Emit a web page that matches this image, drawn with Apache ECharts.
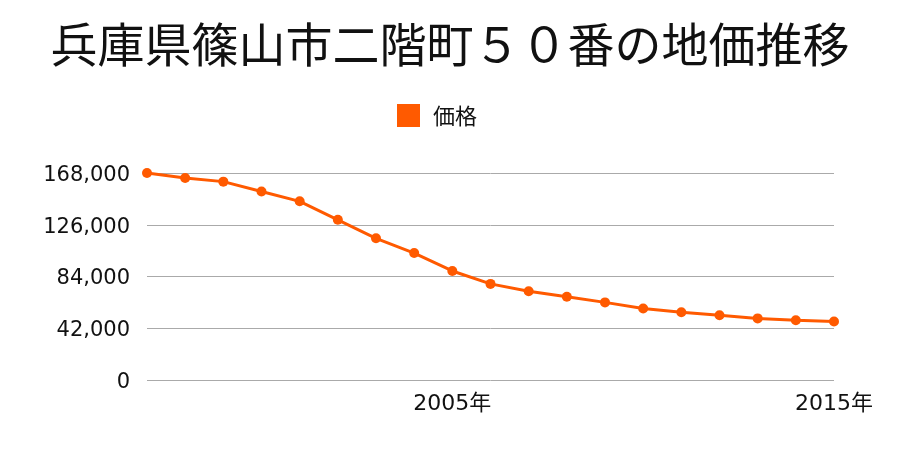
<!DOCTYPE html>
<html><head><meta charset="utf-8">
<script src="https://cdn.jsdelivr.net/npm/echarts@6/dist/echarts.min.js"></script>
<style>html,body{margin:0;padding:0;background:#fff}#c{width:900px;height:450px}</style>
</head><body><div id="c"></div>
<script>
const years = ['1997','1998','1999','2000','2001','2002','2003','2004','2005','2006','2007','2008','2009','2010','2011','2012','2013','2014','2015'];
const prices = [168000,164000,161000,153000,145000,130000,115000,103000,88500,78000,72000,67500,63000,58000,55000,52500,50000,48500,47500];
const yTicks = [0,42000,84000,126000,168000];
const titleText = '兵庫県篠山市二階町５０番の地価推移';
const seriesName = '価格';
const font = '"Noto Sans CJK JP", sans-serif';
const numFont = '"DejaVu Sans", "Noto Sans CJK JP", sans-serif';
const chart = echarts.init(document.getElementById('c'));
chart.setOption({
  animation:false,
  title:{text:titleText,left:'center',top:16,textStyle:{fontFamily:font,fontSize:47,fontWeight:'normal',color:'#111'}},
  legend:{data:[{name:seriesName,icon:'rect'}],top:104,left:397,padding:0,itemWidth:23,itemHeight:23,itemGap:10,
    textStyle:{fontFamily:font,fontSize:22,color:'#111',padding:[0,0,0,8]}},
  grid:{left:147,right:66,top:173,bottom:70,containLabel:false},
  xAxis:{type:'category',data:years,boundaryGap:false,
    axisLine:{show:false},axisTick:{show:false},
    axisLabel:{interval:(i,v)=>(+v)%10===5,formatter:v=>v+'年',fontFamily:numFont,fontSize:22,color:'#111',margin:13}},
  yAxis:{type:'value',min:yTicks[0],max:yTicks[yTicks.length-1],interval:42000,
    axisLine:{show:false},axisTick:{show:false},
    splitLine:{lineStyle:{color:'#aaa',width:1}},
    axisLabel:{formatter:v=>'{a|'+v.toLocaleString('en-US')+'}',margin:17,
      rich:{a:{fontFamily:numFont,fontSize:21,color:'#111',padding:[5,0,0,0]}}}},
  series:[{name:seriesName,type:'line',data:prices,symbol:'circle',symbolSize:10,
    itemStyle:{color:'#ff5a00'},lineStyle:{color:'#ff5a00',width:3}}]
});
</script></body></html>
